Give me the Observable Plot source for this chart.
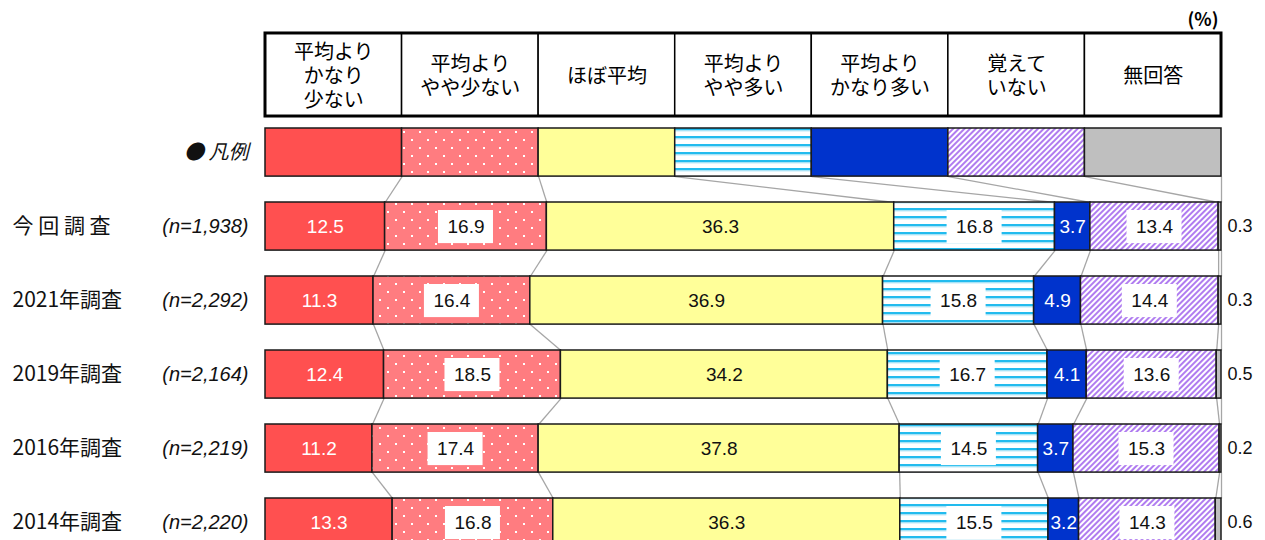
<!DOCTYPE html>
<html><head><meta charset="utf-8">
<script src="https://cdn.jsdelivr.net/npm/d3@7"></script>
<script src="https://cdn.jsdelivr.net/npm/@observablehq/plot@0.6"></script>
<style>
html,body{margin:0;padding:0;background:#fff;overflow:hidden;width:1265px;height:540px;}
</style></head><body><div id="chart"></div>
<script>
// ---- data ----
const categories = ["平均より\nかなり\n少ない", "平均より\nやや少ない", "ほぼ平均", "平均より\nやや多い", "平均より\nかなり多い", "覚えて\nいない", "無回答"];
const surveys = ["今 回 調 査", "2021年調査", "2019年調査", "2016年調査", "2014年調査"];
const sampleSizes = ["(n=1,938)", "(n=2,292)", "(n=2,164)", "(n=2,219)", "(n=2,220)"];
const valuesCurrent = [12.5, 16.9, 36.3, 16.8, 3.7, 13.4, 0.3];
const values2021 = [11.3, 16.4, 36.9, 15.8, 4.9, 14.4, 0.3];
const values2019 = [12.4, 18.5, 34.2, 16.7, 4.1, 13.6, 0.5];
const values2016 = [11.2, 17.4, 37.8, 14.5, 3.7, 15.3, 0.2];
const values2014 = [13.3, 16.8, 36.3, 15.5, 3.2, 14.3, 0.6];
const legendTitle = "● 凡例";
const unitLabel = "(%)";

// ---- styles ----
const fills = ["#ff5050", "url(#dots)", "#ffff99", "url(#stripes)", "#0033cc", "url(#hatch)", "#bfbfbf"];
const labelWhite = [true, false, false, false, true, false, false];
const labelBoxed = [false, true, false, true, false, true, false];
const BAR = 0.65;
const HEAD_TOP = -1.284, HEAD_BOTTOM = -0.162;
const CJK = "'Noto Sans CJK JP', 'Noto Sans', sans-serif";
const NUM = "'Liberation Sans', Arial, sans-serif";

// ---- derived tables ----
const allValues = [valuesCurrent, values2021, values2019, values2016, values2014];
const nCat = categories.length;
const legendSegs = categories.map((c, k) => ({row: 0, k, x1: k * 100 / nCat, x2: (k + 1) * 100 / nCat}));
const barSegs = [];
allValues.forEach((vals, i) => {
  const total = d3.sum(vals);
  let cum = 0;
  vals.forEach((v, k) => {
    const x1 = cum / total * 100; cum += v; const x2 = cum / total * 100;
    barSegs.push({row: i + 1, k, value: v, x1, x2, mid: (x1 + x2) / 2});
  });
});
const rowSegs = [legendSegs, ...surveys.map((s, i) => barSegs.filter(d => d.row === i + 1))];
const links = [];
for (let r = 0; r < rowSegs.length - 1; r++) {
  for (let k = 0; k < nCat; k++) {
    links.push({xa: rowSegs[r][k].x2, ya: r + BAR, xb: rowSegs[r + 1][k].x2, yb: r + 1});
  }
}
const allSegs = [...legendSegs, ...barSegs];

const marks = [
  // header table
  Plot.rect(legendSegs, {x1: "x1", x2: "x2", y1: () => HEAD_TOP, y2: () => HEAD_BOTTOM, fill: "white", stroke: "#000", strokeWidth: 1.5}),
  Plot.rect([0], {x1: () => 0, x2: () => 100, y1: () => HEAD_TOP, y2: () => HEAD_BOTTOM, fill: "none", stroke: "#000", strokeWidth: 3}),
  Plot.text(categories, {x: (d, k) => (k + 0.5) * 100 / nCat, y: () => (HEAD_TOP + HEAD_BOTTOM) / 2, text: d => d,
    fontSize: 20, lineHeight: 1.2, fontFamily: CJK, fill: "#000"}),
  Plot.text([unitLabel], {x: () => 100, y: () => -1.46, text: d => d, textAnchor: "end", dx: -3, fontSize: 18, fontWeight: "bold", fontFamily: CJK}),
  // connector lines
  Plot.link(links, {x1: "xa", y1: "ya", x2: "xb", y2: "yb", stroke: "#a6a6a6", strokeWidth: 1.3}),
  // segments per category
  ...fills.map((f, k) => Plot.rect(allSegs.filter(d => d.k === k), {
    x1: "x1", x2: "x2", y1: "row", y2: d => d.row + BAR, fill: f, stroke: "#1a1a1a", strokeWidth: 1.5
  })),
  // white boxes behind labels
  Plot.rect(barSegs.filter(d => labelBoxed[d.k]), {x1: "mid", x2: "mid", y1: "row", y2: d => d.row + BAR,
    insetLeft: -27.5, insetRight: -27.5, insetTop: 8, insetBottom: 7, fill: "white"}),
  // labels
  Plot.text(barSegs.filter(d => d.k < nCat - 1 && labelWhite[d.k]), {x: "mid", y: d => d.row + BAR / 2, text: d => d.value.toFixed(1),
    fill: "white", fontSize: 19, fontFamily: NUM}),
  Plot.text(barSegs.filter(d => d.k < nCat - 1 && !labelWhite[d.k]), {x: "mid", y: d => d.row + BAR / 2, text: d => d.value.toFixed(1),
    fill: "#111", fontSize: 19, fontFamily: NUM}),
  Plot.text(barSegs.filter(d => d.k === nCat - 1), {x: "x2", y: d => d.row + BAR / 2, text: d => d.value.toFixed(1),
    textAnchor: "start", dx: 6, fill: "#111", fontSize: 18, fontFamily: NUM}),
  // row labels
  Plot.text(surveys, {y: (d, i) => i + 1 + BAR / 2, text: d => d, frameAnchor: "left", dx: -253, textAnchor: "start",
    fontSize: 21, fontFamily: CJK, fill: "#111"}),
  Plot.text(sampleSizes, {y: (d, i) => i + 1 + BAR / 2, text: d => d, frameAnchor: "left", dx: -17, textAnchor: "end",
    fontSize: 20, fontStyle: "italic", fontFamily: NUM, fill: "#111"}),
  Plot.text([legendTitle], {y: () => BAR / 2, text: d => d, frameAnchor: "left", dx: -17, textAnchor: "end",
    fontSize: 20, fontStyle: "italic", fontFamily: CJK, fill: "#111"})
];

const svg = Plot.plot({
  width: 1265, height: 540,
  marginLeft: 265, marginRight: 44, marginTop: 0, marginBottom: 0,
  x: {domain: [0, 100], axis: null},
  y: {domain: [-128 / 74, 412 / 74], reverse: true, axis: null},
  style: {background: "white", fontFamily: CJK},
  marks
});

const defs = document.createElementNS("http://www.w3.org/2000/svg", "defs");
defs.innerHTML = `
<pattern id="dots" width="16" height="16" patternUnits="userSpaceOnUse">
  <rect width="16" height="16" fill="#ff7c80"/>
  <rect x="3" y="3" width="2" height="2" fill="#fff"/>
  <rect x="11" y="11" width="2" height="2" fill="#fff"/>
</pattern>
<pattern id="stripes" width="8" height="8" patternUnits="userSpaceOnUse">
  <rect width="8" height="8" fill="#fff"/>
  <rect y="0" width="8" height="2.5" fill="#22bbee"/>
  <rect y="2.5" width="8" height="1" fill="#bfe9f8"/>
</pattern>
<pattern id="hatch" width="4" height="4" patternUnits="userSpaceOnUse" patternTransform="rotate(45)">
  <rect width="4" height="4" fill="#fff"/>
  <rect width="2" height="4" fill="#b07cf0"/>
</pattern>`;
svg.insertBefore(defs, svg.firstChild);
document.getElementById("chart").appendChild(svg);
</script>
</body></html>
